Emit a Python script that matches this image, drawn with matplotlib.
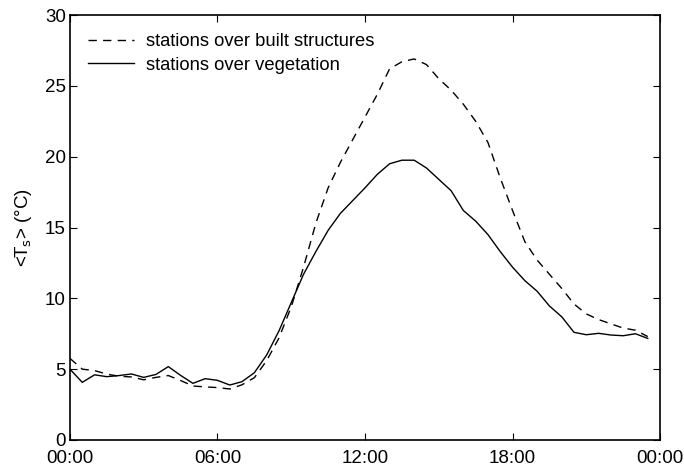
import numpy as np
import matplotlib
matplotlib.use("Agg")
import matplotlib.pyplot as plt

plt.rcParams['font.family'] = ['Liberation Sans', 'DejaVu Sans']

# half-hourly time steps (hours after midnight)
hours = np.arange(0, 24, 0.5)

built = [5.76, 5.0, 4.9, 4.65, 4.5, 4.45, 4.25, 4.42, 4.55, 4.2,
         3.81, 3.75, 3.7, 3.6, 3.9, 4.4, 5.6, 7.2, 9.4, 12.2,
         15.3, 17.8, 19.6, 21.2, 22.8, 24.4, 26.2, 26.7, 26.9, 26.5,
         25.5, 24.7, 23.7, 22.5, 21.0, 18.5, 16.2, 14.0, 12.7, 11.7,
         10.7, 9.6, 8.9, 8.5, 8.2, 7.9, 7.75, 7.3]

veg = [5.0, 4.07, 4.6, 4.47, 4.55, 4.66, 4.42, 4.63, 5.18, 4.56,
       4.0, 4.33, 4.21, 3.88, 4.12, 4.75, 6.0, 7.7, 9.7, 11.7,
       13.3, 14.8, 16.0, 16.9, 17.8, 18.75, 19.5, 19.75, 19.75, 19.2,
       18.4, 17.6, 16.2, 15.45, 14.5, 13.3, 12.2, 11.25, 10.5, 9.46,
       8.7, 7.6, 7.43, 7.53, 7.41, 7.36, 7.5, 7.17]

xticks = [0, 6, 12, 18, 24]
xticklabels = ['00:00', '06:00', '12:00', '18:00', '00:00']

fig = plt.figure(figsize=(6.84, 4.66), dpi=100)
ax = fig.add_axes([0.1023, 0.0558, 0.8627, 0.912])

ax.plot(hours, built, color='black', lw=1.0, ls=(0, (6, 4.5)),
        label='stations over built structures')
ax.plot(hours, veg, color='black', lw=1.0, label='stations over vegetation')

ax.set_xlim(0, 24)
ax.set_ylim(0, 30)
ax.set_xticks(xticks)
ax.set_xticklabels(xticklabels)
ax.set_yticks([0, 5, 10, 15, 20, 25, 30])
ax.tick_params(direction='in', top=True, right=True, length=5, width=0.8,
               labelsize=13.5)
ax.tick_params(axis='x', pad=7)
ax.tick_params(axis='y', pad=3)
for s in ax.spines.values():
    s.set_linewidth(1.2)

ax.set_ylabel(r'<T$_\mathrm{s}$> (°C)', fontsize=13.5, labelpad=8)

ax.legend(loc='upper left', frameon=False, fontsize=13.2, handlelength=2.5,
          handletextpad=0.65, borderaxespad=0.6, labelspacing=0.35)

fig.savefig('out.png', dpi=100)
